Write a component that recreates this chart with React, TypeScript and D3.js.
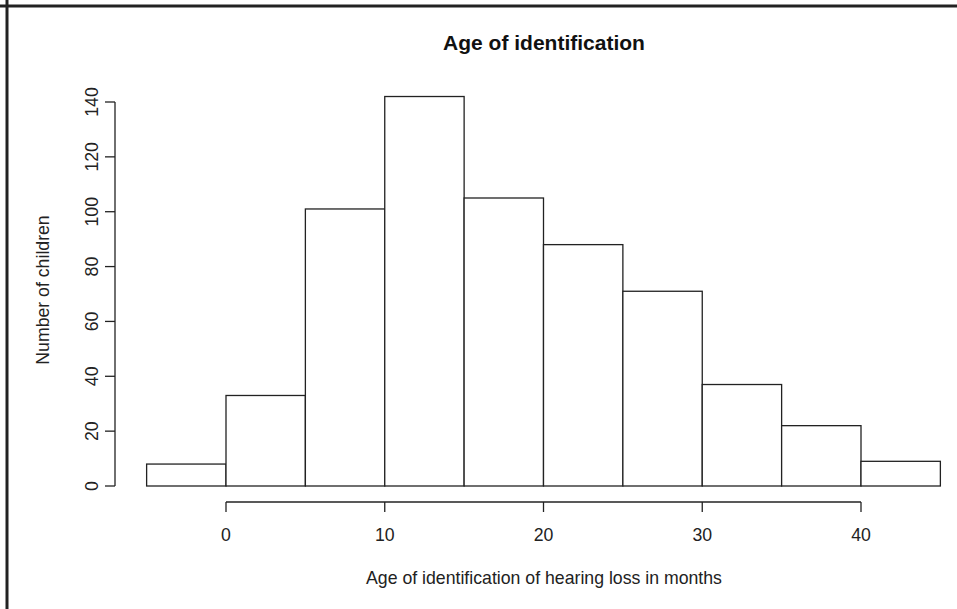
import React from "react";
import * as d3 from "d3";

const binStarts = [-5, 0, 5, 10, 15, 20, 25, 30, 35, 40];
const binWidth = 5;
const counts = [8, 33, 101, 142, 105, 88, 71, 37, 22, 9];
const xTicks = [0, 10, 20, 30, 40];
const yTicks = [0, 20, 40, 60, 80, 100, 120, 140];

const W = 957;
const H = 609;
const FONT = "'Liberation Sans', Arial, Helvetica, sans-serif";
const FS = 17.7;

export default function App() {
  const x = d3.scaleLinear().domain([0, 40]).range([226, 861]);
  const y = d3.scaleLinear().domain([0, 140]).range([486, 102]);
  const axisX = 115;
  const axisY = 502;
  const stroke = "#222";

  return (
    <div style={{ position: "fixed", left: 0, top: 0, width: W, height: H, background: "#fff" }}>
      <svg width={W} height={H} style={{ display: "block" }} fontFamily={FONT}>
        <rect x={0} y={0} width={W} height={H} fill="#fff" />
        {/* frame top & left */}
        <line x1={0} x2={W} y1={6} y2={6} stroke="#222" strokeWidth={3} />
        <line x1={7} x2={7} y1={0} y2={H} stroke="#222" strokeWidth={3} />

        {/* bars */}
        {binStarts.map((b, i) => (
          <rect
            key={i}
            x={x(b)}
            y={y(counts[i])}
            width={x(b + binWidth) - x(b)}
            height={y(0) - y(counts[i])}
            fill="#fff"
            stroke={stroke}
            strokeWidth={1.3}
          />
        ))}

        {/* y axis */}
        <line x1={axisX} x2={axisX} y1={y(0)} y2={y(140)} stroke={stroke} strokeWidth={1.3} />
        {yTicks.map((t) => (
          <g key={t}>
            <line x1={axisX - 10} x2={axisX} y1={y(t)} y2={y(t)} stroke={stroke} strokeWidth={1.3} />
            <text
              transform={`translate(${axisX - 17},${y(t)}) rotate(-90)`}
              textAnchor="middle"
              fontSize={FS}
              fill="#222"
            >
              {t}
            </text>
          </g>
        ))}

        {/* x axis */}
        <line x1={x(0)} x2={x(40)} y1={axisY} y2={axisY} stroke={stroke} strokeWidth={1.3} />
        {xTicks.map((t) => (
          <g key={t}>
            <line x1={x(t)} x2={x(t)} y1={axisY} y2={axisY + 10} stroke={stroke} strokeWidth={1.3} />
            <text x={x(t)} y={541} textAnchor="middle" fontSize={FS} fill="#222">
              {t}
            </text>
          </g>
        ))}

        {/* labels */}
        <text x={544} y={50} textAnchor="middle" fontSize={21} fontWeight="bold" fill="#111">
          Age of identification
        </text>
        <text x={544} y={584} textAnchor="middle" fontSize={FS} fill="#222">
          Age of identification of hearing loss in months
        </text>
        <text
          transform={`translate(49,290) rotate(-90)`}
          textAnchor="middle"
          fontSize={FS}
          fill="#222"
        >
          Number of children
        </text>
      </svg>
    </div>
  );
}
